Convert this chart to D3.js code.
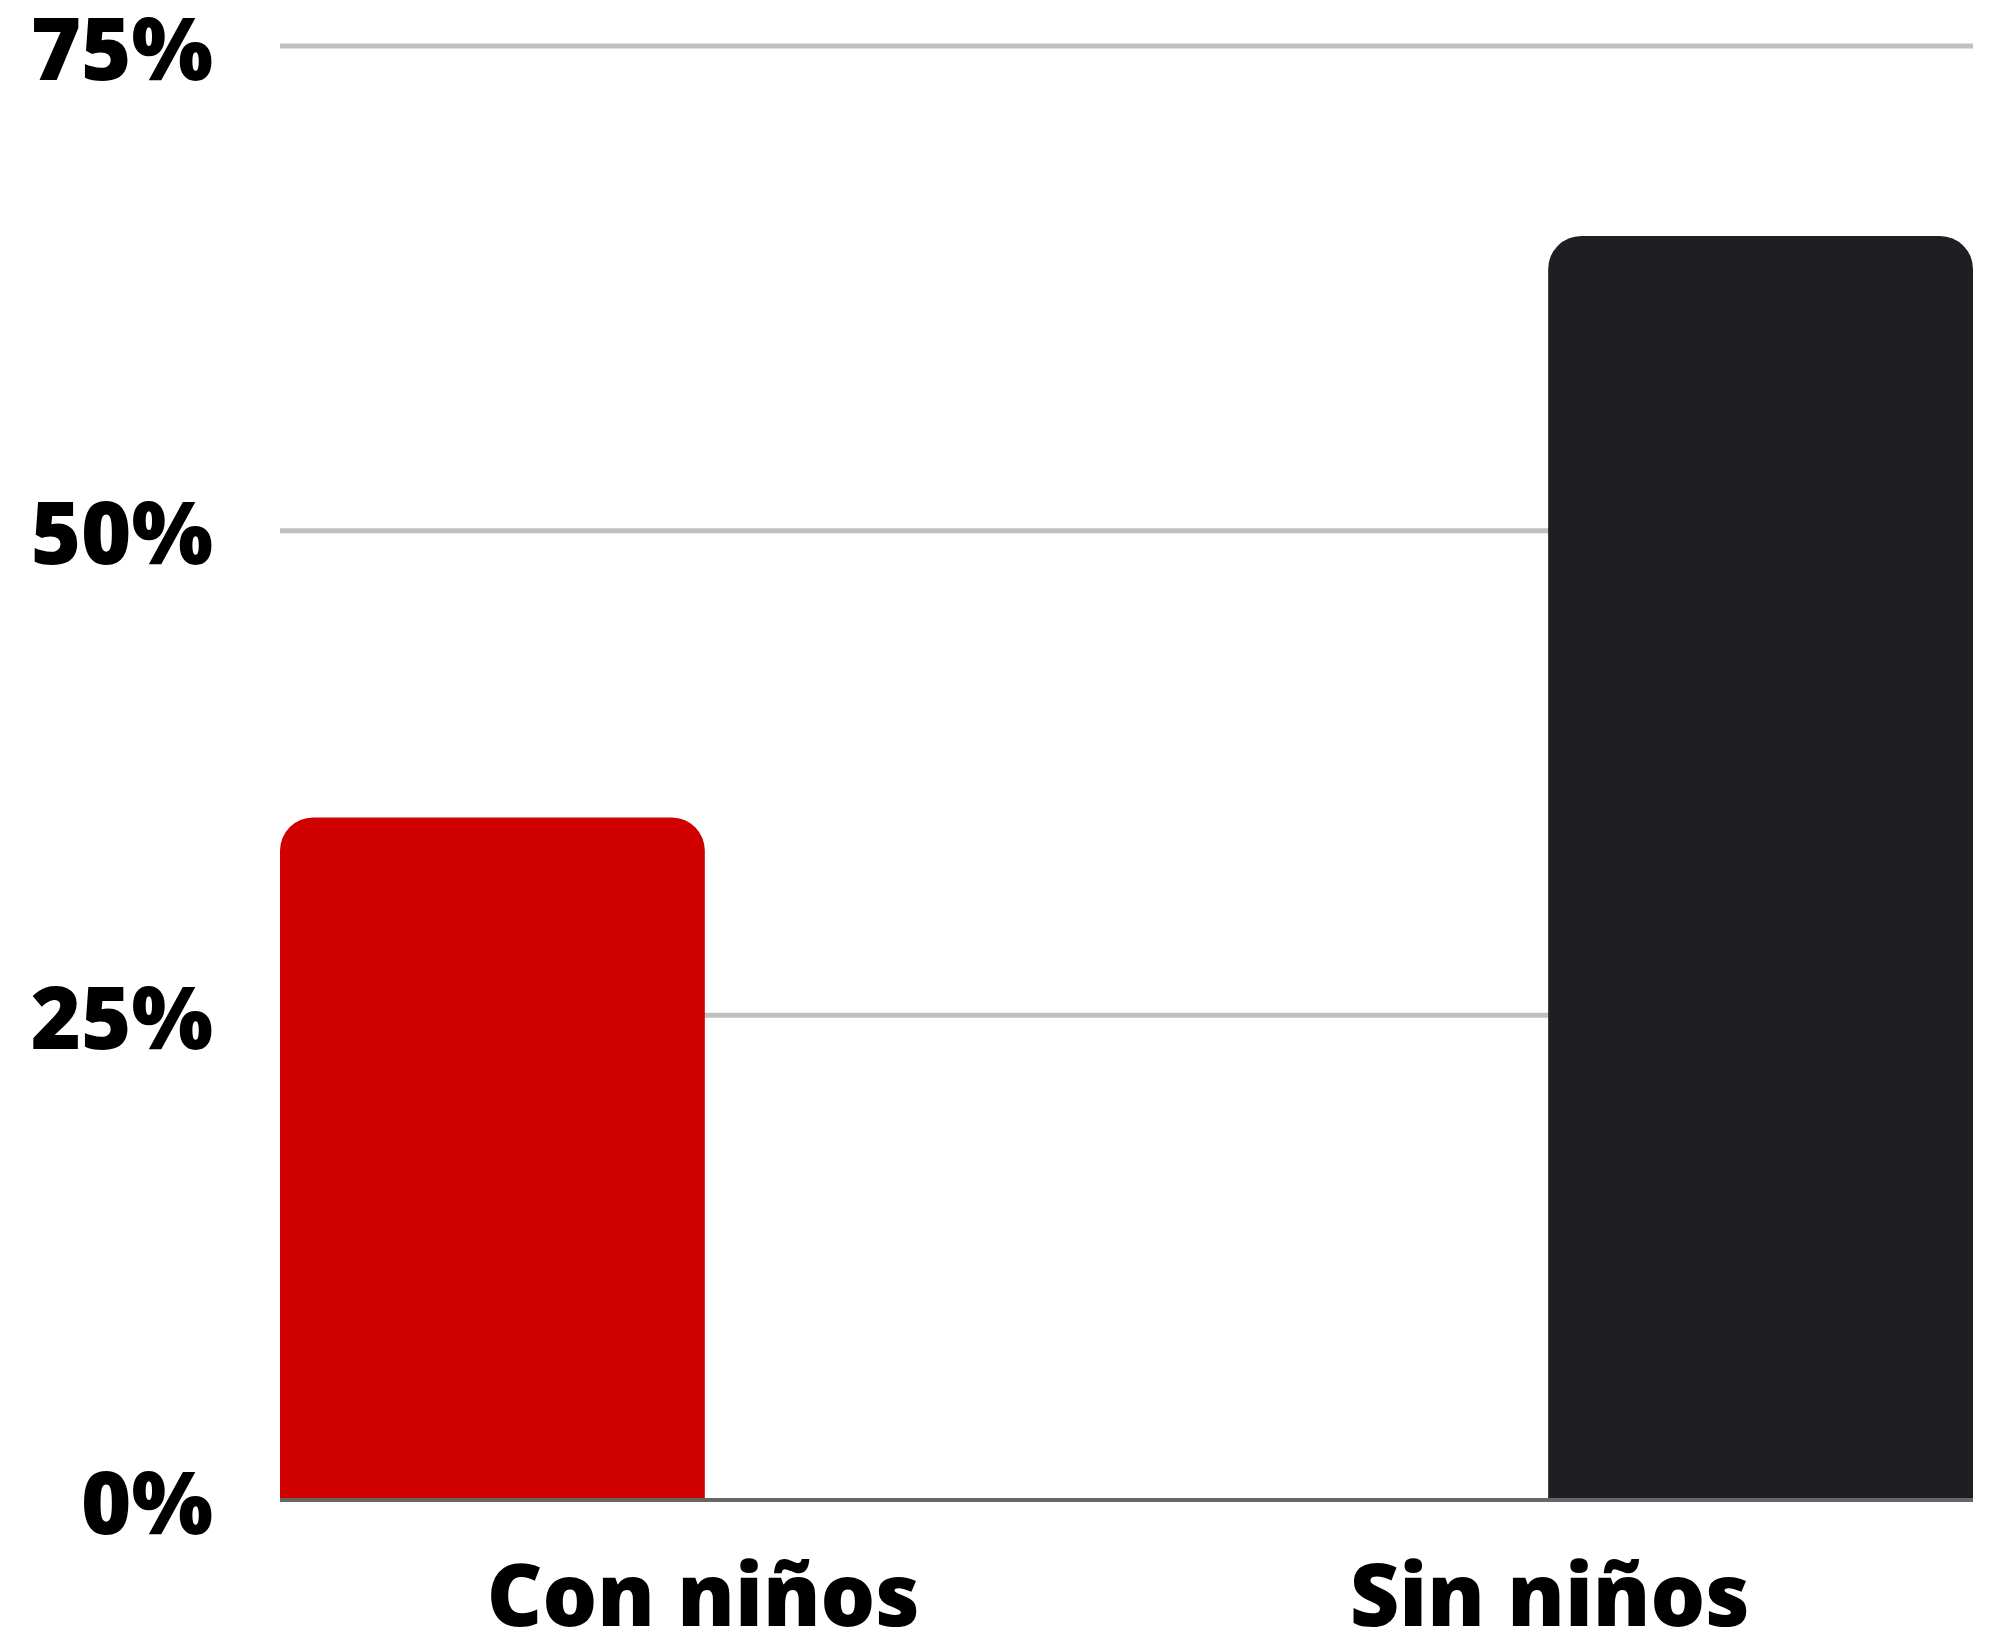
<!DOCTYPE html>
<html>
<head>
<meta charset="utf-8">
<script src="https://cdn.jsdelivr.net/npm/d3@7"></script>
<style>
  html, body { margin: 0; padding: 0; background: #fff; }
  svg text { font-family: "Open Sans", sans-serif; font-weight: 800; fill: #000; }
</style>
</head>
<body>
<svg id="chart" width="1998" height="1635"></svg>
<script>
// Share of respondents by household type
const categories = ["Con niños", "Sin niños"];
const values = [35.2, 65.2];
const barColors = ["#d00000", "#1f1f23"];
const yTicks = [0, 25, 50, 75];
const yTickLabels = ["0%", "25%", "50%", "75%"];

const chartW = 1998, chartH = 1635;
const plotLeft = 280, plotRight = 1973, plotTop = 46, plotBottom = 1500;

const svg = d3.select("#chart");

const y = d3.scaleLinear().domain([0, 75]).range([plotBottom, plotTop]);
const xBars = d3.scaleBand().domain(categories).range([plotLeft, plotRight])
  .paddingInner(0.665).paddingOuter(0);
const xLabels = d3.scalePoint().domain(categories).range([plotLeft, plotRight]).padding(0.5);

// horizontal gridlines
svg.append("g")
  .selectAll("line")
  .data(yTicks.filter(t => t > 0))
  .join("line")
  .attr("x1", plotLeft).attr("x2", plotRight)
  .attr("y1", d => y(d)).attr("y2", d => y(d))
  .attr("stroke", "#c0c0c0")
  .attr("stroke-width", 5);

// y-axis labels
svg.append("g")
  .selectAll("text")
  .data(yTicks)
  .join("text")
  .attr("x", 213)
  .attr("y", d => y(d))
  .attr("dy", "0.39em")
  .attr("text-anchor", "end")
  .attr("font-size", 86)
  .text((d, i) => yTickLabels[i]);

// bars with rounded top corners
const r = 33;
function topRoundedBar(x0, x1, yTop, yBase) {
  const p = d3.path();
  p.moveTo(x0, yBase);
  p.lineTo(x0, yTop + r);
  p.arcTo(x0, yTop, x0 + r, yTop, r);
  p.lineTo(x1 - r, yTop);
  p.arcTo(x1, yTop, x1, yTop + r, r);
  p.lineTo(x1, yBase);
  p.closePath();
  return p.toString();
}

svg.append("g")
  .selectAll("path")
  .data(categories)
  .join("path")
  .attr("d", (c, i) => topRoundedBar(xBars(c), xBars(c) + xBars.bandwidth(), y(values[i]), y(0)))
  .attr("fill", (c, i) => barColors[i]);

// baseline
svg.append("line")
  .attr("x1", plotLeft).attr("x2", plotRight)
  .attr("y1", y(0)).attr("y2", y(0))
  .attr("stroke", "#666666")
  .attr("stroke-width", 4);

// category labels
svg.append("g")
  .selectAll("text")
  .data(categories)
  .join("text")
  .attr("x", d => xLabels(d))
  .attr("y", 1626)
  .attr("text-anchor", "middle")
  .attr("font-size", 86)
  .text(d => d);
</script>
</body>
</html>
